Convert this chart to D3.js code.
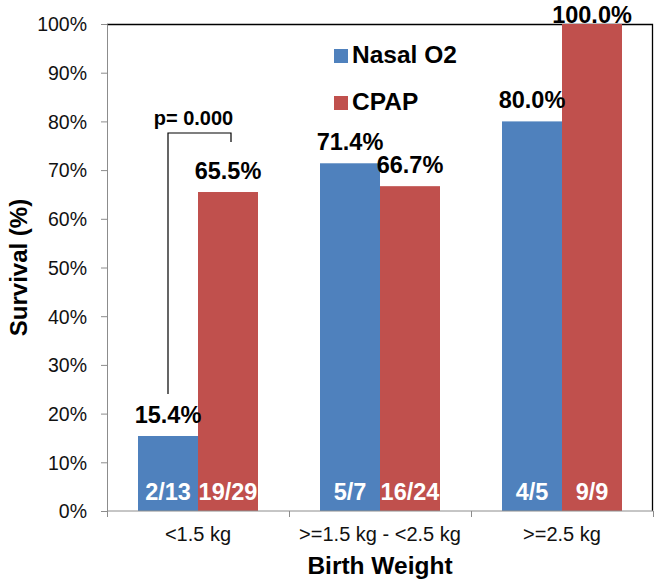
<!DOCTYPE html>
<html>
<head>
	<title>Survival by Birth Weight</title>
</head>
<style type="text/css">
	html, body {margin:0px; padding:0px; background:#fff;}
	svg {display:block; font-family: "Liberation Sans", Arial, sans-serif;}
</style>
<body>

	<svg width="660" height="586"></svg>

<script src="https://d3js.org/d3.v7.min.js"></script>
<script type="text/javascript">

	// data
	const categories = ['<1.5 kg', '>=1.5 kg - <2.5 kg', '>=2.5 kg'];
	const seriesNames = ['Nasal O2', 'CPAP'];
	const nasalO2 = [15.4, 71.4, 80.0];
	const cpap = [65.5, 66.7, 100.0];
	const nasalCounts = ['2/13', '5/7', '4/5'];
	const cpapCounts = ['19/29', '16/24', '9/9'];
	const yTicks = [0, 10, 20, 30, 40, 50, 60, 70, 80, 90, 100];
	const pLabel = 'p= 0.000';

	const colours = {'Nasal O2': '#4F81BD', 'CPAP': '#C0504D'};

	const svg = d3.select('svg');
	const pLeft = 107, pRight = 653, pTop = 24, pBottom = 511;

	const x = d3.scaleBand().domain(categories).range([pLeft, pRight])
		.paddingInner(62/182).paddingOuter(31/182);
	const xs = d3.scaleBand().domain(seriesNames).range([0, x.bandwidth()]);
	const y = d3.scaleLinear().domain([0, 100]).range([pBottom, pTop]);

	// build rows
	let rows = [];
	categories.forEach(function(c, i) {
		rows.push({cat: c, series: 'Nasal O2', value: nasalO2[i], count: nasalCounts[i]});
		rows.push({cat: c, series: 'CPAP', value: cpap[i], count: cpapCounts[i]});
	});
	function barMid(d) { return x(d.cat) + xs(d.series) + xs.bandwidth() / 2; }

	// frame: top + right black
	svg.append('path')
		.attr('d', 'M' + pLeft + ',' + (pTop + 0.5) + 'H' + (pRight - 0.5) + 'V' + pBottom)
		.attr('fill', 'none').attr('stroke', '#000').attr('stroke-width', 1.3);

	// bars
	svg.selectAll('rect.bar').data(rows).enter().append('rect')
		.attr('class', 'bar')
		.attr('x', function(d) { return x(d.cat) + xs(d.series); })
		.attr('y', function(d) { return y(d.value); })
		.attr('width', xs.bandwidth())
		.attr('height', function(d) { return pBottom - y(d.value); })
		.attr('fill', function(d) { return colours[d.series]; });

	// y axis
	const yAxis = d3.axisLeft(y).tickValues(yTicks).tickSize(6).tickPadding(14)
		.tickFormat(function(d) { return d + '%'; });
	const gy = svg.append('g').attr('transform', 'translate(' + pLeft + ',0)').call(yAxis);
	gy.select('.domain').attr('stroke', '#8c8c8c').attr('d', 'M-6,' + (pTop + 0.5) + 'H0.5V' + pBottom);
	gy.selectAll('.tick line').attr('stroke', '#8c8c8c');
	gy.selectAll('.tick text')
		.attr('dy', '0.35em')
		.attr('font-size', 19.5).attr('fill', '#111')
		.attr('font-family', '"Liberation Sans", Arial, sans-serif');

	// x axis with ticks between categories
	const gx = svg.append('g').attr('transform', 'translate(0,' + pBottom + ')');
	gx.append('line').attr('x1', pLeft).attr('x2', pRight).attr('stroke', '#8c8c8c');
	const step = x.step();
	d3.range(categories.length + 1).forEach(function(i) {
		let tx = Math.round(pLeft + i * step) + 0.5;
		gx.append('line').attr('x1', tx).attr('x2', tx).attr('y1', 0).attr('y2', 6).attr('stroke', '#8c8c8c');
	});
	gx.selectAll('text.cat').data(categories).enter().append('text')
		.attr('class', 'cat')
		.attr('x', function(d) { return x(d) + x.bandwidth() / 2; })
		.attr('y', 30)
		.attr('text-anchor', 'middle')
		.attr('font-size', 20)
		.attr('fill', '#111')
		.text(function(d) { return d; });

	// value labels above bars
	svg.selectAll('text.val').data(rows).enter().append('text')
		.attr('class', 'val')
		.attr('x', barMid)
		.attr('y', function(d) { return Math.max(y(d.value) - 13, pTop - 1); })
		.attr('text-anchor', 'middle')
		.attr('font-size', 23.5)
		.attr('font-weight', 'bold')
		.attr('fill', '#000')
		.text(function(d) { return d.value.toFixed(1) + '%'; });

	// counts inside bars
	svg.selectAll('text.cnt').data(rows).enter().append('text')
		.attr('class', 'cnt')
		.attr('x', barMid)
		.attr('y', pBottom - 11)
		.attr('text-anchor', 'middle')
		.attr('font-size', 23.5)
		.attr('font-weight', 'bold')
		.attr('fill', '#fff')
		.text(function(d) { return d.count; });

	// significance bracket for first group
	const bx1 = barMid(rows[0]);
	const bx2 = barMid(rows[1]) + 3;
	const by = 133;
	svg.append('path')
		.attr('d', 'M' + bx1 + ',' + (y(nasalO2[0]) - 42) + 'V' + by + 'H' + bx2 + 'V' + (by + 9))
		.attr('fill', 'none').attr('stroke', '#000').attr('stroke-width', 1.2);
	svg.append('text')
		.attr('x', (bx1 + bx2) / 2 - 6)
		.attr('y', by - 8)
		.attr('text-anchor', 'middle')
		.attr('font-size', 20)
		.attr('font-weight', 'bold')
		.text(pLabel);

	// legend
	const legend = svg.selectAll('g.leg').data(seriesNames).enter().append('g')
		.attr('class', 'leg')
		.attr('transform', function(d, i) { return 'translate(334,' + (63 + i * 47) + ')'; });
	legend.append('rect').attr('x', 0).attr('y', -14).attr('width', 14).attr('height', 14)
		.attr('fill', function(d) { return colours[d]; });
	legend.append('text').attr('x', 18).attr('y', 0)
		.attr('font-size', 24.5).attr('font-weight', 'bold')
		.text(function(d) { return d; });

	// axis titles
	svg.append('text')
		.attr('x', (pLeft + pRight) / 2).attr('y', 574)
		.attr('text-anchor', 'middle')
		.attr('font-size', 24.5).attr('font-weight', 'bold')
		.text('Birth Weight');
	svg.append('text')
		.attr('transform', 'translate(27,' + ((pTop + pBottom) / 2) + ') rotate(-90)')
		.attr('text-anchor', 'middle')
		.attr('font-size', 24).attr('font-weight', 'bold')
		.text('Survival (%)');

</script>
</body>
</html>
